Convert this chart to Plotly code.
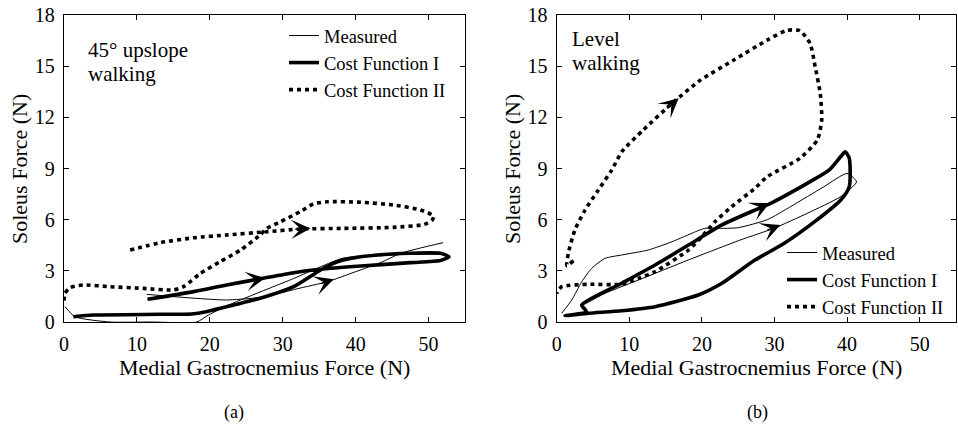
import plotly.graph_objects as go

# ---------------- data: panel (a) 45 deg upslope walking ----------------
meas_a_x = [11.35, 17.7, 22.3, 26.0, 28.3, 32.0, 36.1, 40.0, 43.5, 46.2, 49.0, 52.0, None,
            0.14, 1.5, 6.3, 12.0, 18.2, 19.8, 23.2, 28.3, 31.5, 35.2, 38.3, 42.0, 45.2, 48.4, 51.0]
meas_a_y = [1.62, 1.40, 1.29, 1.40, 1.55, 1.95, 2.36, 2.95, 3.50, 4.03, 4.35, 4.65, None,
            0.90, 0.31, 0.0, 0.0, 0.0, 0.41, 1.11, 2.0, 2.55, 3.24, 3.75, 3.85, 3.93, 4.0, 3.98]
cf1_a_x = [11.45, 17.8, 22.3, 26.9, 31.5, 35.2, 40.7, 47.5, 51.6, 52.8, 51.6, 47.5, 42.95, 39.3,
           37.5, 35.2, 31.5, 26.9, 23.3, 19.5, 17.5, 13.2, 4.0, 1.28]
cf1_a_y = [1.33, 1.78, 2.17, 2.53, 2.89, 3.09, 3.28, 3.48, 3.60, 3.83, 4.03, 4.03, 3.93, 3.73,
           3.53, 3.05, 2.07, 1.39, 1.0, 0.6, 0.47, 0.45, 0.41, 0.31]
cf2_a_x = [9.07, 13.2, 17.8, 22.3, 27.8, 32.4, 38.4, 45.2, 49.4, 50.5, 50.7, 48.9, 45.2, 40.7,
           36.1, 34.2, 32.4, 29.7, 27.8, 26.9, 24.2, 21.4, 18.7, 16.4, 15.0, 10.9, 6.3, 2.65,
           0.82, 0.14, 0.0]
cf2_a_y = [4.22, 4.65, 4.94, 5.10, 5.29, 5.45, 5.49, 5.55, 5.72, 5.98, 6.21, 6.57, 6.86, 7.02,
           7.05, 6.92, 6.47, 5.88, 5.49, 5.10, 4.22, 3.53, 2.85, 2.07, 1.88, 1.97, 2.07, 2.17,
           2.01, 1.68, 1.19]
# arrows (tail x, tail y, head x, head y)
arrows_a = [(35.0, 2.22, 37.0, 2.50), (25.5, 2.42, 27.6, 2.58), (31.5, 5.44, 33.8, 5.48)]

# ---------------- data: panel (b) level walking ----------------
meas_b_x = [0.69, 2.07, 3.45, 4.83, 6.66, 8.96, 12.6, 15.9, 19.1, 20.4, 22.75, 25.0, 29.0, 32.2,
            36.8, 40.0, 41.3, 39.1, 34.5, 29.9, 25.3, 18.1, 11.25, 6.66, 3.9, 3.3]
meas_b_y = [0.51, 1.29, 2.36, 3.15, 3.73, 3.93, 4.22, 4.71, 5.29, 5.49, 5.49, 5.53, 6.0, 6.76,
            7.93, 8.71, 8.22, 7.35, 6.37, 5.49, 4.81, 3.63, 2.46, 1.68, 1.06, 0.98]
cf1_b_x = [4.1, 3.45, 8.96, 13.55, 18.15, 22.75, 27.3, 29.0, 34.5, 37.5, 39.1, 39.75, 40.3, 40.3,
           39.1, 35.8, 31.3, 27.3, 22.75, 19.5, 13.55, 8.96, 4.36, 1.14, 4.1]
cf1_b_y = [0.6, 1.0, 2.27, 3.34, 4.51, 5.69, 6.56, 6.86, 8.13, 8.9, 9.69, 9.98, 9.6, 7.93,
           7.14, 5.97, 4.6, 3.63, 2.27, 1.58, 0.9, 0.66, 0.51, 0.37, 0.6]
cf2_b_x = [2.3, 1.4, 1.6, 2.5, 3.9, 5.74, 7.58, 9.0, 11.9, 16.1, 19.8, 24.4, 29.0, 31.7, 33.5,
           34.9, 35.6, 36.3, 36.5, 35.9, 33.5, 29.0, 27.3, 24.1, 21.8, 20.0, 18.15, 13.55, 11.25,
           8.96, 4.36, 0.69, 0.0]
cf2_b_y = [3.6, 3.3, 4.03, 5.39, 6.56, 7.74, 8.91, 10.0, 11.25, 12.9, 14.18, 15.36, 16.53, 17.1,
           17.08, 16.33, 14.97, 13.4, 11.84, 10.67, 9.6, 8.52, 7.84, 6.76, 5.88, 5.0, 4.22, 2.95,
           2.56, 2.21, 2.21, 2.07, 1.68]
arrows_b = [(15.0, 12.45, 16.8, 13.12), (27.3, 6.56, 29.3, 6.98), (28.8, 5.35, 30.8, 5.69)]

series_names = ["Measured", "Cost Function I", "Cost Function II"]
x_ticks = [0, 10, 20, 30, 40, 50]
y_ticks = [0, 3, 6, 9, 12, 15, 18]

FONT = "Liberation Serif"
styles = [dict(color="black", width=1),
          dict(color="black", width=3.6),
          dict(color="black", width=3.6, dash="4px,4px")]

fig = go.Figure()
panels = [
    ("x", "y", "legend", [(meas_a_x, meas_a_y), (cf1_a_x, cf1_a_y), (cf2_a_x, cf2_a_y)]),
    ("x2", "y2", "legend2", [(meas_b_x, meas_b_y), (cf1_b_x, cf1_b_y), (cf2_b_x, cf2_b_y)]),
]
for xa, ya, lg, series in panels:
    for name, (sx, sy), st in zip(series_names, series, styles):
        fig.add_trace(go.Scatter(x=sx, y=sy, mode="lines", name=name,
                                 line=dict(shape="spline", smoothing=0.6, **st),
                                 xaxis=xa, yaxis=ya, legend=lg, connectgaps=False))

annotations = []
for xa, ya, arrows in [("x", "y", arrows_a), ("x2", "y2", arrows_b)]:
    for tx, ty, hx, hy in arrows:
        annotations.append(dict(x=hx, y=hy, ax=tx, ay=ty, xref=xa, yref=ya, axref=xa, ayref=ya,
                                text="", showarrow=True, arrowhead=3, arrowsize=2.5,
                                arrowwidth=1.3, arrowcolor="black", standoff=0))

def label(text, x, y, xref="paper", yref="paper", size=21, anchor="center", angle=0):
    return dict(x=x, y=y, xref=xref, yref=yref, text=text, showarrow=False, textangle=angle,
                xanchor=anchor, yanchor="middle", font=dict(family=FONT, size=size, color="black"))

py = lambda p: 1 - p / 427
annotations += [
    label("45° upslope", 86/958, py(50), anchor="left", size=21),
    label("walking", 86/958, py(74), anchor="left", size=21),
    label("Level", 570/958, py(39), anchor="left", size=21),
    label("walking", 570/958, py(63), anchor="left", size=21),
    label("Medial Gastrocnemius Force (N)", 264/958, py(367), size=22),
    label("Medial Gastrocnemius Force (N)", 756/958, py(367), size=22),
    label("Soleus Force (N)", 19/958, py(169), size=22, angle=-90),
    label("Soleus Force (N)", 512/958, py(169), size=22, angle=-90),
    label("(a)", 234/958, py(412), size=18),
    label("(b)", 757/958, py(412), size=18),
]

axis_common = dict(showline=True, linecolor="black", linewidth=1.3, mirror="ticks", ticks="inside",
                   ticklen=5, tickwidth=1, tickcolor="black", showgrid=False, zeroline=False,
                   automargin=False,
                   tickfont=dict(family=FONT, size=20, color="black"), ticklabelstandoff=4)

fig.update_layout(
    template="none",
    width=958, height=427, margin=dict(l=0, r=0, t=0, b=0, pad=0), autosize=False,
    paper_bgcolor="white", plot_bgcolor="white",
    xaxis=dict(domain=[64/958, 465/958], range=[0, 55], tickvals=x_ticks, anchor="y", **axis_common),
    yaxis=dict(domain=[py(322), py(15)], range=[0, 18], tickvals=y_ticks, anchor="x", **axis_common),
    xaxis2=dict(domain=[556.7/958, 956/958], range=[0, 55], tickvals=x_ticks, anchor="y2", **axis_common),
    yaxis2=dict(domain=[py(322), py(15)], range=[0, 18], tickvals=y_ticks, anchor="x2", **axis_common),
    legend=dict(x=284/958, y=py(17), xanchor="left", yanchor="top", bgcolor="rgba(0,0,0,0)",
                font=dict(family=FONT, size=18.5, color="black"), tracegroupgap=0),
    legend2=dict(x=782/958, y=py(234), xanchor="left", yanchor="top", bgcolor="rgba(0,0,0,0)",
                 font=dict(family=FONT, size=18.5, color="black"), tracegroupgap=0),
    annotations=annotations,
    font=dict(family=FONT, color="black"),
)

fig.write_html("out.html")
